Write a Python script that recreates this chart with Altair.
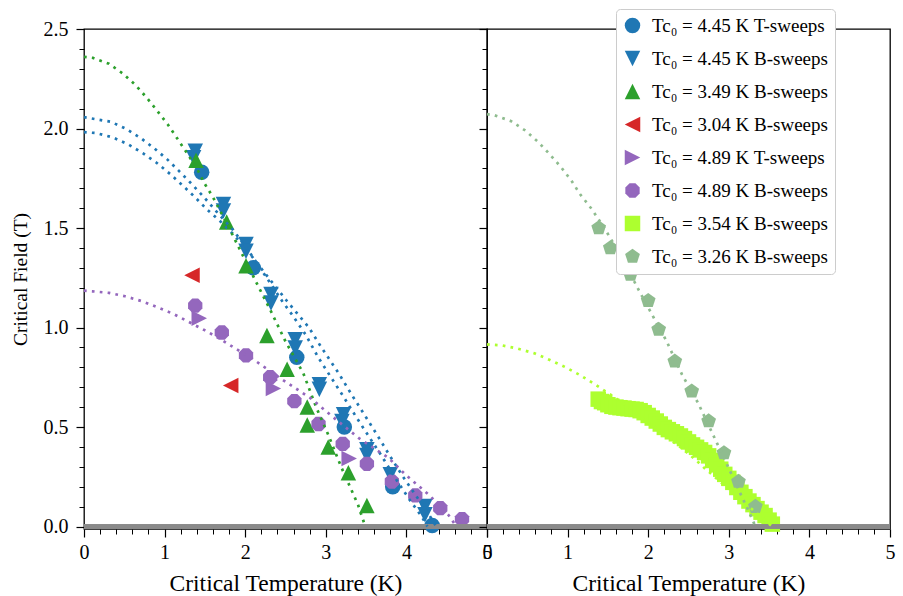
import altair as alt
import pandas as pd

FONT = "Liberation Serif"

# ---------------- series definitions ----------------
labels = [
    "Tc₀ = 4.45 K T-sweeps",
    "Tc₀ = 4.45 K B-sweeps",
    "Tc₀ = 3.49 K B-sweeps",
    "Tc₀ = 3.04 K B-sweeps",
    "Tc₀ = 4.89 K T-sweeps",
    "Tc₀ = 4.89 K B-sweeps",
    "Tc₀ = 3.54 K B-sweeps",
    "Tc₀ = 3.26 K B-sweeps",
]
colors = ["#1f77b4", "#1f77b4", "#2ca02c", "#d62728",
          "#9467bd", "#9467bd", "#adff2f", "#8fbc8f"]
TRI_DOWN = "M0,1L1,-1L-1,-1Z"
TRI_UP = "M0,-1L1,1L-1,1Z"
TRI_LEFT = "M-1,0L1,-1L1,1Z"
TRI_RIGHT = "M1,0L-1,-1L-1,1Z"
OCTAGON = ("M0.924,0.383L0.383,0.924L-0.383,0.924L-0.924,0.383"
           "L-0.924,-0.383L-0.383,-0.924L0.383,-0.924L0.924,-0.383Z")
PENTAGON = "M0,-1L0.951,-0.309L0.588,0.809L-0.588,0.809L-0.951,-0.309Z"
shapes = ["circle", TRI_DOWN, TRI_UP, TRI_LEFT, TRI_RIGHT, OCTAGON, "square", PENTAGON]

# ---------------- measured points ----------------
s0_T = [1.46, 2.10, 2.64, 3.23, 3.83, 4.32]
s0_B = [1.78, 1.30, 0.85, 0.50, 0.20, 0.005]

s1_T = [1.38, 1.36, 1.73, 1.73, 2.01, 2.01, 2.32, 2.32, 2.62, 2.62, 2.92, 2.92,
        3.22, 3.20, 3.51, 3.51, 3.80, 4.23, 4.23]
s1_B = [1.886, 1.853, 1.618, 1.585, 1.417, 1.383, 1.166, 1.123, 0.939, 0.897, 0.713, 0.69,
        0.562, 0.528, 0.386, 0.357, 0.26, 0.10, 0.059]

s2_T = [1.39, 1.77, 2.01, 2.27, 2.52, 2.77, 2.77, 3.03, 3.28, 3.51]
s2_B = [1.84, 1.53, 1.31, 0.96, 0.79, 0.60, 0.51, 0.40, 0.27, 0.105]

s3_T = [1.34, 1.82]
s3_B = [1.263, 0.709]

s4_T = [1.43, 2.35, 3.29]
s4_B = [1.046, 0.694, 0.342]

s5_T = [1.38, 1.71, 2.01, 2.31, 2.61, 2.91, 3.21, 3.51, 3.82, 4.11, 4.42, 4.69]
s5_B = [1.11, 0.975, 0.86, 0.75, 0.63, 0.515, 0.415, 0.315, 0.226, 0.156, 0.092, 0.037]

s6_T = [1.38, 1.42, 1.46, 1.50, 1.55, 1.60, 1.65, 1.70, 1.75, 1.80, 1.85, 1.90, 1.95,
        2.00, 2.05, 2.10, 2.15, 2.20, 2.25, 2.30, 2.35, 2.40, 2.45, 2.50, 2.55, 2.60,
        2.65, 2.70, 2.75, 2.80, 2.85, 2.90, 2.95, 3.00, 3.05, 3.10, 3.15, 3.20, 3.25,
        3.30, 3.35, 3.40, 3.45, 3.50, 3.54]
s6_B = [0.640, 0.628, 0.622, 0.612, 0.604, 0.600, 0.597, 0.595, 0.592, 0.590, 0.588,
        0.582, 0.572, 0.558, 0.545, 0.530, 0.515, 0.498, 0.487, 0.476, 0.466, 0.455,
        0.442, 0.425, 0.410, 0.398, 0.385, 0.372, 0.355, 0.332, 0.310, 0.288, 0.262,
        0.242, 0.222, 0.196, 0.172, 0.150, 0.128, 0.110, 0.090, 0.072, 0.055, 0.032, 0.012]

s7_T = [1.386, 1.53, 1.78, 2.00, 2.13, 2.33, 2.54, 2.75, 2.94, 3.12, 3.33]
s7_B = [1.50, 1.40, 1.266, 1.135, 0.99, 0.83, 0.68, 0.53, 0.37, 0.226, 0.10]

# ---------------- fitted curves (dotted) ----------------
fA_T = [0, 0.33, 0.52, 0.70, 0.87, 1.03, 1.18, 1.33, 1.47, 1.65, 1.85, 2.05, 2.25,
        2.46, 2.58, 2.75, 2.91, 3.08, 3.20, 3.37, 3.53, 3.70, 3.86, 4.03, 4.19, 4.26]
fA_B = [2.057, 2.034, 1.999, 1.953, 1.901, 1.846, 1.786, 1.724, 1.663, 1.58, 1.49,
        1.38, 1.26, 1.132, 1.065, 0.964, 0.847, 0.74, 0.665, 0.555, 0.455, 0.35,
        0.245, 0.14, 0.05, 0.0]

fB_T = [0, 0.15, 0.36, 0.55, 0.73, 0.90, 1.067, 1.22, 1.377, 1.526, 1.69, 1.85, 2.05,
        2.25, 2.52, 2.79, 2.95, 3.16, 3.325, 3.49, 3.66, 3.78, 3.95, 4.11, 4.28, 4.37]
fB_B = [1.982, 1.977, 1.955, 1.92, 1.876, 1.828, 1.772, 1.715, 1.655, 1.593, 1.534,
        1.47, 1.375, 1.27, 1.132, 1.0, 0.897, 0.77, 0.66, 0.555, 0.445, 0.365, 0.255,
        0.16, 0.06, 0.0]

fG_T = [0, 0.11, 0.31, 0.48, 0.64, 0.78, 0.91, 1.04, 1.16, 1.28, 1.40, 1.49, 1.60,
        1.80, 2.12, 2.32, 2.50, 2.72, 2.88, 3.03, 3.19, 3.28, 3.40, 3.49]
fG_B = [2.36, 2.355, 2.325, 2.277, 2.218, 2.154, 2.088, 2.02, 1.948, 1.875, 1.80,
        1.727, 1.655, 1.50, 1.241, 1.081, 0.93, 0.771, 0.60, 0.461, 0.30, 0.218,
        0.109, 0.0]

fP_T = [0, 0.10, 0.31, 0.51, 0.72, 0.92, 1.11, 1.30, 1.485, 1.67, 1.857, 2.125, 2.48,
        2.81, 3.08, 3.41, 3.78, 3.99, 4.28, 4.52, 4.62]
fP_B = [1.185, 1.182, 1.174, 1.157, 1.132, 1.10, 1.068, 1.028, 0.989, 0.947, 0.90,
        0.833, 0.733, 0.645, 0.553, 0.444, 0.344, 0.26, 0.159, 0.059, 0.0]

fY_T = [0, 0.19, 0.38, 0.59, 0.78, 0.976, 1.158, 1.344, 1.52, 1.70, 1.90, 2.10, 2.30,
        2.44, 2.61, 2.70, 2.90, 3.10, 3.30, 3.54]
fY_B = [0.915, 0.91, 0.894, 0.87, 0.837, 0.80, 0.76, 0.713, 0.666, 0.615, 0.555,
        0.495, 0.43, 0.386, 0.327, 0.293, 0.223, 0.153, 0.083, 0.0]

fD_T = [0, 0.09, 0.30, 0.475, 0.633, 0.773, 0.918, 1.046, 1.158, 1.294, 1.427, 1.53,
        1.675, 1.88, 2.07, 2.23, 2.42, 2.62, 2.80, 2.98, 3.16, 3.25, 3.33]
fD_B = [2.072, 2.067, 2.037, 1.99, 1.933, 1.873, 1.806, 1.739, 1.668, 1.598, 1.518,
        1.45, 1.35, 1.19, 1.048, 0.93, 0.763, 0.62, 0.465, 0.31, 0.151, 0.075, 0.0]

# tick values
x_major = [0, 1, 2, 3, 4, 5]
x_minor = [0.2, 0.4, 0.6, 0.8, 1.2, 1.4, 1.6, 1.8, 2.2, 2.4, 2.6, 2.8,
           3.2, 3.4, 3.6, 3.8, 4.2, 4.4, 4.6, 4.8]
y_major = [0, 0.5, 1.0, 1.5, 2.0, 2.5]
y_minor = [0.1, 0.2, 0.3, 0.4, 0.6, 0.7, 0.8, 0.9, 1.1, 1.2, 1.3, 1.4,
           1.6, 1.7, 1.8, 1.9, 2.1, 2.2, 2.3, 2.4]

# ---------------- tables ----------------
pt_series = [(s0_T, s0_B), (s1_T, s1_B), (s2_T, s2_B), (s3_T, s3_B),
             (s4_T, s4_B), (s5_T, s5_B), (s6_T, s6_B), (s7_T, s7_B)]
rows = []
for i, (ts, bs) in enumerate(pt_series):
    for t, b in zip(ts, bs):
        rows.append({"T": t, "B": b, "series": labels[i], "panel": "L" if i < 6 else "R"})
pts = pd.DataFrame(rows)

fits = [("A", fA_T, fA_B, "#1f77b4", "L"), ("B", fB_T, fB_B, "#1f77b4", "L"),
        ("G", fG_T, fG_B, "#2ca02c", "L"), ("P", fP_T, fP_B, "#9467bd", "L"),
        ("Y", fY_T, fY_B, "#adff2f", "R"), ("D", fD_T, fD_B, "#8fbc8f", "R")]
lrows = []
for name, ts, bs, col, pan in fits:
    for t, b in zip(ts, bs):
        lrows.append({"T": t, "B": b, "fit": name, "col": col, "panel": pan})
lines = pd.DataFrame(lrows)

W, H = 403, 500
xscale = alt.Scale(domain=[0, 5], nice=False, zero=False)
yscale = alt.Scale(domain=[-0.0125, 2.5], nice=False, zero=False)

legend = alt.Legend(
    orient="none", legendX=532, legendY=-20, title=None,
    labelFont=FONT, labelFontSize=19, labelColor="black", labelLimit=400,
    symbolSize=240, labelOffset=10, rowPadding=13,
    padding=7, fillColor="white", strokeColor="#cccccc", cornerRadius=4,
    symbolStrokeWidth=0,
)


def axis_major_x():
    return alt.Axis(values=x_major, orient="bottom", format="d", labelFont=FONT,
                    labelFontSize=20, labelColor="black", titleFont=FONT,
                    titleFontSize=23.5, titleFontWeight="normal", titleColor="black",
                    tickSize=8, tickWidth=1.2, tickColor="black", domain=False,
                    grid=False, labelPadding=5, titlePadding=9, labelFlush=False)


def axis_minor_x():
    return alt.Axis(values=x_minor, orient="bottom", labels=False, tickSize=5,
                    tickWidth=1, tickColor="black", domain=False, grid=False)


def axis_major_y(show):
    if show:
        return alt.Axis(values=y_major, orient="left", format=".1f", labelFont=FONT,
                        labelFontSize=20, labelColor="black", titleFont=FONT,
                        titleFontSize=19.5, titleFontWeight="normal", titleColor="black",
                        tickSize=8, tickWidth=1.2, tickColor="black", domain=False,
                        grid=False, labelPadding=8, titlePadding=13)
    return alt.Axis(values=y_major, orient="left", labels=False, tickSize=8,
                    tickWidth=1.2, tickColor="black", domain=False, grid=False)


def axis_minor_y():
    return alt.Axis(values=y_minor, orient="left", labels=False, tickSize=5,
                    tickWidth=1, tickColor="black", domain=False, grid=False)


def panel(pan, show_y):
    p = alt.Chart(pts[pts.panel == pan]).mark_point(filled=True, opacity=1, size=240).encode(
        x=alt.X("T:Q", scale=xscale, axis=axis_major_x(), title="Critical Temperature (K)"),
        y=alt.Y("B:Q", scale=yscale, axis=axis_major_y(show_y),
                title="Critical Field (T)" if show_y else ""),
        color=alt.Color("series:N", scale=alt.Scale(domain=labels, range=colors), legend=legend),
        shape=alt.Shape("series:N", scale=alt.Scale(domain=labels, range=shapes), legend=legend),
    )
    zero = alt.Chart(pts).mark_rule(color="#8a8a8a", strokeWidth=3.5).encode(
        y=alt.YDatum(0, axis=None)
    )
    ln = alt.Chart(lines[lines.panel == pan]).mark_line(
        strokeWidth=2.7, strokeDash=[2.7, 5.2], strokeCap="butt"
    ).encode(
        x=alt.X("T:Q", scale=xscale, axis=axis_minor_x(), title=""),
        y=alt.Y("B:Q", scale=yscale, axis=axis_minor_y(), title=""),
        stroke=alt.Stroke("col:N", scale=None),
        detail="fit:N",
    )
    return alt.layer(p, zero, ln).resolve_axis(x="independent", y="independent").properties(
        width=W, height=H
    )


chart = alt.hconcat(panel("L", True), panel("R", False), spacing=0, bounds="flush").properties(
    padding={"left": 9, "top": 8, "right": 0, "bottom": 0}
).configure(font=FONT).configure_view(stroke="black", strokeWidth=1.3)

chart.save("out.html", embed_options={"renderer": "svg", "actions": False})
